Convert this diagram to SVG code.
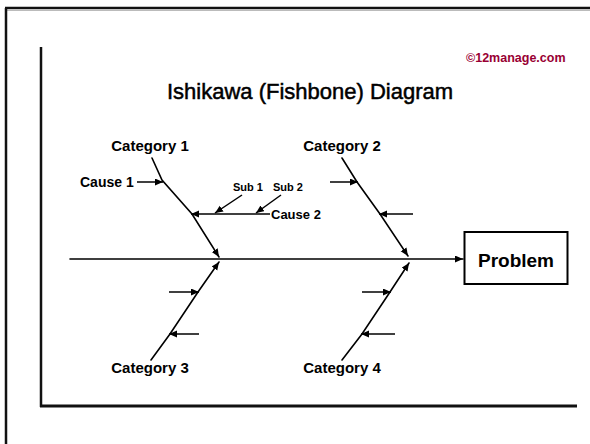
<svg xmlns="http://www.w3.org/2000/svg" width="590" height="444" viewBox="0 0 590 444">
  <style>
    .lbl { font-family: "Liberation Sans", Arial, sans-serif; font-weight: bold; fill: #000; }
    .bone { stroke: #000; stroke-width: 1.6; fill: none; stroke-linecap: round; }
    .cause { stroke: #000; stroke-width: 1.5; fill: none; }
    .frame { stroke: #111; fill: none; }
  </style>
  <defs>
    <marker id="head" markerUnits="userSpaceOnUse" markerWidth="10" markerHeight="8" refX="8" refY="3.5" orient="auto">
      <path d="M0,0 L8,3.5 L0,7 z" fill="#000"/>
    </marker>
  </defs>

  <rect width="590" height="444" fill="#fff"/>

  <!-- page frame -->
  <g id="frame">
    <line class="frame" x1="5" y1="8" x2="590" y2="8" stroke-width="2.5"/>
    <line x1="7" y1="10.5" x2="590" y2="10.5" stroke="#bbb" stroke-width="1"/>
    <line class="frame" x1="6" y1="8" x2="6" y2="444" stroke-width="2.5"/>
    <line class="frame" x1="41" y1="47" x2="41" y2="407" stroke-width="2.5"/>
    <line class="frame" x1="40" y1="406" x2="577" y2="406" stroke-width="3"/>
  </g>

  <!-- headings -->
  <g id="title">
    <text x="466" y="62" font-family="'Liberation Sans', Arial, sans-serif" font-size="12.5" font-weight="bold" fill="#990033">©12manage.com</text>
    <text x="310" y="99" text-anchor="middle" font-family="'Liberation Sans', Arial, sans-serif" font-size="22" fill="#000" stroke="#000" stroke-width="0.5">Ishikawa (Fishbone) Diagram</text>
  </g>

  <!-- connectors -->
  <g id="connectors">
    <!-- spine -->
    <line class="bone" x1="70" y1="259" x2="463" y2="259" marker-end="url(#head)"/>
    <!-- category bones -->
    <polyline class="bone" points="152,158 162,180 192,214 219,257" marker-end="url(#head)"/>
    <polyline class="bone" points="151,360 170,334 198,292 219,262" marker-end="url(#head)"/>
    <polyline class="bone" points="342,158 357,182 380,214 408,256" marker-end="url(#head)"/>
    <polyline class="bone" points="342,360 362,334 390,292 409,263" marker-end="url(#head)"/>
    <!-- causes -->
    <line class="cause" x1="137" y1="182" x2="163" y2="182" marker-end="url(#head)"/>
    <line class="cause" x1="270" y1="214" x2="191" y2="214" marker-end="url(#head)"/>
    <line class="cause" x1="242" y1="195" x2="215" y2="213" marker-end="url(#head)"/>
    <line class="cause" x1="281" y1="195" x2="256" y2="213" marker-end="url(#head)"/>
    <line class="cause" x1="330" y1="182" x2="358" y2="182" marker-end="url(#head)"/>
    <line class="cause" x1="413" y1="214" x2="379" y2="214" marker-end="url(#head)"/>
    <line class="cause" x1="169" y1="292" x2="199" y2="292" marker-end="url(#head)"/>
    <line class="cause" x1="199" y1="334" x2="169" y2="334" stroke-width="2.5" marker-end="url(#head)"/>
    <line class="cause" x1="362" y1="292" x2="391" y2="292" marker-end="url(#head)"/>
    <line class="cause" x1="395" y1="334" x2="361" y2="334" stroke-width="2.5" marker-end="url(#head)"/>
  </g>

  <g id="problem">
    <rect x="464.5" y="232" width="103" height="52" fill="#fff" stroke="#000" stroke-width="2"/>
    <text class="lbl" x="516" y="267" text-anchor="middle" font-size="19">Problem</text>
  </g>

  <g id="category1"><text class="lbl" x="150" y="151" text-anchor="middle" font-size="15">Category 1</text></g>
  <g id="category2"><text class="lbl" x="342" y="151" text-anchor="middle" font-size="15">Category 2</text></g>
  <g id="category3"><text class="lbl" x="150" y="373" text-anchor="middle" font-size="15">Category 3</text></g>
  <g id="category4"><text class="lbl" x="342" y="373" text-anchor="middle" font-size="15">Category 4</text></g>

  <g id="cause1"><text class="lbl" x="80" y="187" font-size="14">Cause 1</text></g>
  <g id="cause2"><text class="lbl" x="271" y="219" font-size="13">Cause 2</text></g>
  <g id="sub1"><text class="lbl" x="233" y="191" font-size="11">Sub 1</text></g>
  <g id="sub2"><text class="lbl" x="273" y="191" font-size="11">Sub 2</text></g>
</svg>
